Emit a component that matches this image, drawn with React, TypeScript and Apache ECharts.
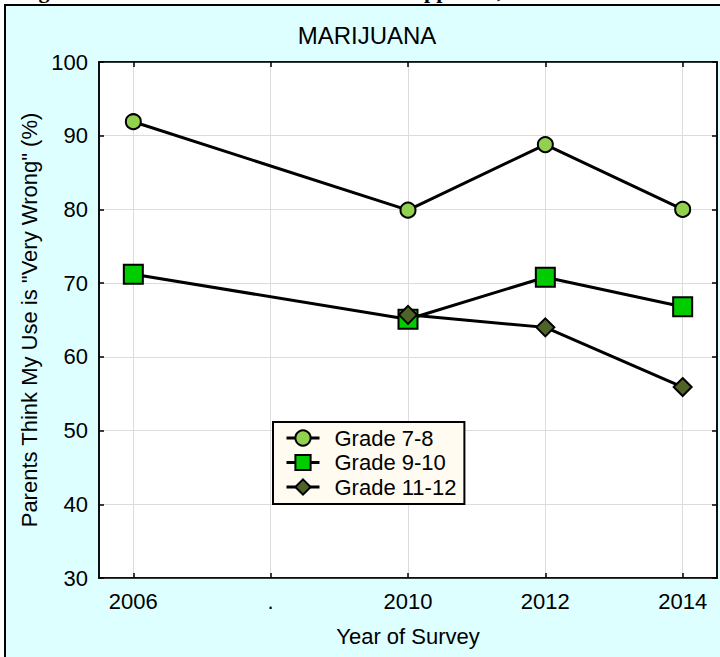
import React, { useEffect, useRef } from "react";
import * as echarts from "echarts";

const years = [2006, 2010, 2012, 2014];
const tickYears = [2006, 2008, 2010, 2012, 2014];
const tickLabels = ["2006", ".", "2010", "2012", "2014"];
const seriesNames = ["Grade 7-8", "Grade 9-10", "Grade 11-12"];
const grade78 = [91.9, 79.9, 88.8, 80.0];
const grade910 = [71.2, 65.1, 70.8, 66.8];
const grade1112: (number | null)[] = [null, 65.7, 64.0, 55.9];
const yTicks = { min: 30, max: 100, interval: 10 };

const FONT = '"Liberation Sans", Arial, sans-serif';

function pairs(vals: (number | null)[]) {
  return years
    .map((y, i) => [y, vals[i]])
    .filter((d) => d[1] !== null && d[1] !== undefined);
}

export default function App() {
  const ref = useRef<HTMLDivElement>(null);
  useEffect(() => {
    if (!ref.current) return;
    const chart = echarts.init(ref.current, undefined, { renderer: "svg" });
    const tickLine = { color: "#000", width: 1.5 };
    const option: any = {
      animation: false,
      backgroundColor: "#fff",
      graphic: [
        {
          type: "rect",
          z: -10,
          silent: true,
          shape: { x: 5, y: 5, width: 800, height: 800 },
          style: { fill: "#DDFFFF", stroke: "#000", lineWidth: 2 },
        },
        {
          type: "text",
          x: 367,
          y: 35,
          style: {
            text: "MARIJUANA",
            fontSize: 24,
            fontFamily: FONT,
            fill: "#000",
            textAlign: "center",
            textVerticalAlign: "middle",
            align: "center",
            verticalAlign: "middle",
          },
        },
        {
          type: "text",
          x: 19,
          y: 1.5,
          style: {
            text: "Figure 14. Perceived Level of Parental Disapproval, 2006-2014",
            fontSize: 22,
            fontWeight: "bold",
            fontFamily: '"Liberation Serif", "Times New Roman", serif',
            fill: "#000",
            textAlign: "left",
            textVerticalAlign: "bottom",
            align: "left",
            verticalAlign: "bottom",
          },
        },
      ],
      grid: {
        left: 99,
        top: 62,
        right: 3,
        bottom: 79,
        show: true,
        backgroundColor: "#fff",
        borderColor: "#000",
        borderWidth: 1.5,
      },
      legend: {
        orient: "vertical",
        left: 273,
        top: 422,
        padding: [5, 8, 6, 12],
        itemWidth: 33,
        itemHeight: 19,
        itemGap: 2.5,
        backgroundColor: "#FFFBF0",
        borderColor: "#000",
        borderWidth: 2,
        data: seriesNames,
        lineStyle: { width: 3, color: "#000" },
        itemStyle: { borderColor: "#000", borderWidth: 2 },
        textStyle: {
          fontSize: 22,
          color: "#000",
          fontFamily: FONT,
          lineHeight: 22,
          padding: [0, 0, 0, 10],
        },
      },
      xAxis: [
        {
          type: "value",
          position: "bottom",
          min: 2005.5,
          max: 2014.5,
          name: "Year of Survey",
          nameLocation: "middle",
          nameGap: 47,
          nameTextStyle: { fontSize: 22, color: "#000", fontFamily: FONT },
          axisLine: { show: true, onZero: false, lineStyle: tickLine },
          axisTick: {
            show: true,
            inside: true,
            length: 5,
            customValues: tickYears,
            lineStyle: tickLine,
          },
          axisLabel: {
            customValues: tickYears,
            formatter: (v: number) => {
              const i = tickYears.indexOf(Math.round(v));
              return i >= 0 ? tickLabels[i] : "";
            },
            fontSize: 22,
            color: "#000",
            fontFamily: FONT,
            margin: 12,
          },
          splitLine: { show: true, lineStyle: { color: "#DCDCDC", width: 1 } },
        },
        {
          type: "value",
          position: "top",
          min: 2005.5,
          max: 2014.5,
          axisLine: { show: true, onZero: false, lineStyle: tickLine },
          axisTick: {
            show: true,
            inside: true,
            length: 5,
            customValues: tickYears,
            lineStyle: tickLine,
          },
          axisLabel: { show: false, customValues: tickYears },
          splitLine: { show: false },
        },
      ],
      yAxis: [
        {
          type: "value",
          position: "left",
          min: yTicks.min,
          max: yTicks.max,
          interval: yTicks.interval,
          name: 'Parents Think My Use is "Very Wrong" (%)',
          nameLocation: "middle",
          nameGap: 55,
          nameTextStyle: { fontSize: 22, color: "#000", fontFamily: FONT },
          axisLine: { show: true, onZero: false, lineStyle: tickLine },
          axisTick: { show: true, inside: true, length: 5, lineStyle: tickLine },
          axisLabel: { fontSize: 22, color: "#000", fontFamily: FONT, margin: 11 },
          splitLine: { show: true, lineStyle: { color: "#DCDCDC", width: 1 } },
        },
        {
          type: "value",
          position: "right",
          min: yTicks.min,
          max: yTicks.max,
          interval: yTicks.interval,
          axisLine: { show: true, onZero: false, lineStyle: tickLine },
          axisTick: { show: true, inside: true, length: 5, lineStyle: tickLine },
          axisLabel: { show: false },
          splitLine: { show: false },
        },
      ],
      series: [
        {
          name: seriesNames[0],
          type: "line",
          data: pairs(grade78),
          symbol: "circle",
          symbolSize: 15,
          itemStyle: { color: "#92D050", borderColor: "#000", borderWidth: 2 },
          lineStyle: { color: "#000", width: 3 },
          z: 3,
        },
        {
          name: seriesNames[1],
          type: "line",
          data: pairs(grade910),
          symbol: "rect",
          symbolSize: 19,
          itemStyle: { color: "#00CC00", borderColor: "#000", borderWidth: 2 },
          lineStyle: { color: "#000", width: 3 },
          z: 4,
        },
        {
          name: seriesNames[2],
          type: "line",
          data: pairs(grade1112),
          symbol: "diamond",
          symbolSize: 18,
          itemStyle: { color: "#4F6228", borderColor: "#000", borderWidth: 2 },
          lineStyle: { color: "#000", width: 3 },
          z: 5,
        },
      ],
    };
    chart.setOption(option);
    return () => chart.dispose();
  }, []);
  return (
    <div
      ref={ref}
      style={{ position: "fixed", left: 0, top: 0, width: 720, height: 657 }}
    />
  );
}
